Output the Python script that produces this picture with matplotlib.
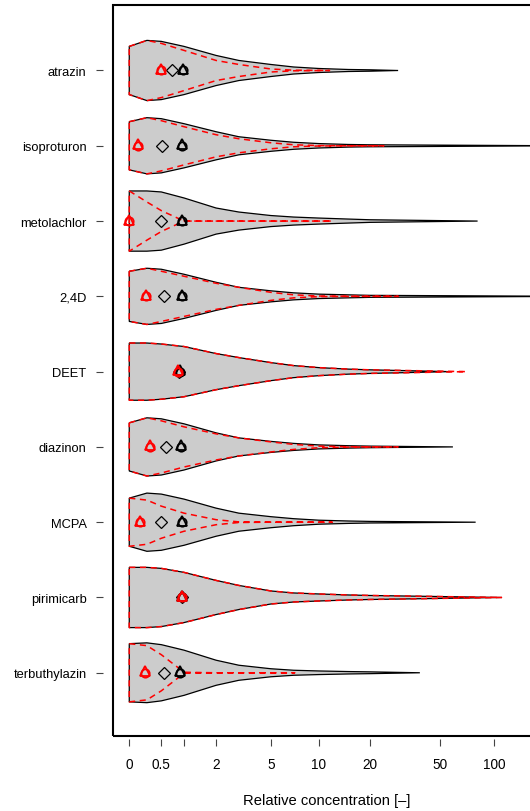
import numpy as np
import matplotlib
matplotlib.use('Agg')
import matplotlib.pyplot as plt
from matplotlib.patches import Rectangle

plt.rcParams['font.family'] = ['Liberation Sans', 'DejaVu Sans']

# compounds, top to bottom
compounds = ['atrazin', 'isoproturon', 'metolachlor', '2,4D', 'DEET',
             'diazinon', 'MCPA', 'pirimicarb', 'terbuthylazin']

grid = [0, 0.25, 0.5, 1, 2, 3, 5, 7, 10, 15, 20]

# observed density (grey violins), half-widths on grid
gray_width = [
    [24, 30, 29, 24, 15, 10, 6, 3.5, 2, 1, 0.7],
    [24, 28, 27, 22, 14, 9, 5.5, 3.5, 2.2, 1.3, 1.0],
    [30, 30, 29, 23, 13, 9, 5.5, 4, 3, 2, 1.3],
    [25, 28, 27, 22, 14, 9, 5.5, 3.5, 2.2, 1.5, 1.0],
    [28.5, 28.5, 27.5, 25, 18, 14, 9, 6, 4, 2.5, 1.8],
    [24, 29, 28, 23, 14, 9, 5.5, 3.5, 2, 1.2, 0.8],
    [24, 29, 28, 23, 14, 9, 5.5, 3.5, 2, 1.2, 0.8],
    [30, 30, 29, 25, 17, 12, 6.5, 4.5, 3.5, 2.5, 2],
    [29, 29.8, 28, 22.5, 12.5, 7.5, 4, 2.5, 1.8, 1.2, 0.9],
]
gray_end = [29, 250, 81, 300, 57, 59, 79, 110, 38.5]

# model density (red dashed violins), half-widths on grid
red_width = [
    [24, 30, 27, 20, 10, 6, 1.5, 0.3, 0.1, 0, 0],
    [24, 28, 25, 19, 11, 7, 3, 1, 0.2, 0, 0],
    [30, 19, 10.4, 0, 0, 0, 0, 0, 0, 0, 0],
    [25, 28, 25, 20, 13, 9, 4, 1.5, 0.3, 0.1, 0],
    [28.5, 28.5, 27.5, 25, 18, 14, 9, 6, 4, 2.5, 1.8],
    [24, 29, 26, 20, 13, 9, 5, 2.5, 0.8, 0.2, 0.05],
    [24, 22, 16, 9, 2.5, 0.3, 0, 0, 0, 0, 0],
    [30, 30, 29, 25, 17, 12, 6.5, 4.5, 3.5, 2.5, 2],
    [29, 27, 18, 0.5, 0, 0, 0, 0, 0, 0, 0],
]
red_end = [11.6, 24, 12, 29, 70, 29, 12, 110, 7.1]

# summary markers
red_mark = [0.49, 0.12, 0.0, 0.24, 0.86, 0.30, 0.14, 0.95, 0.22]
diamond_mark = [0.72, 0.52, 0.49, 0.55, 0.88, 0.59, 0.49, 0.95, 0.56]
black_mark = [0.97, 0.955, 0.95, 0.95, 0.90, 0.93, 0.95, 0.95, 0.90]

xticks = [0, 0.5, 1, 2, 5, 10, 20, 50, 100]
xticklabels = ['0', '0.5', '', '2', '5', '10', '20', '50', '100']


def fwd(x):
    return np.log10(np.asarray(x, dtype=float) + 1)


def inv(y):
    return 10 ** np.asarray(y, dtype=float) - 1


def outline(center, widths, end, wex):
    xs = [g for g in grid if g < end] + [end]
    hw = [w * wex for g, w in zip(grid, widths) if g < end] + [0]
    up = [center + h for h in hw]
    lo = [center - h for h in hw]
    x = xs + xs[::-1] + [xs[0]]
    y = up + lo[::-1] + [up[0]]
    return x, y


fig = plt.figure(figsize=(5.3, 8.12), dpi=100)
ax = fig.add_axes([113 / 530, 1 - 737 / 812, (540 - 113) / 530, 731 / 812])
ax.set_xscale('function', functions=(fwd, inv))
ax.set_xlim(-0.186, 179.6)
ax.set_ylim(0.16, 9.87)

wex = 1 / 75.0
n = len(compounds)
for i, name in enumerate(compounds):
    yc = n - i
    gx, gy = outline(yc, gray_width[i], gray_end[i], wex)
    ax.fill(gx, gy, facecolor='#cccccc', edgecolor='black', lw=0.9, zorder=2)
    rx, ry = outline(yc, red_width[i], red_end[i], wex)
    ax.plot(rx, ry, color='red', lw=1.1, dashes=(4, 3), zorder=3)

    ax.plot(diamond_mark[i], yc, marker='D', ms=6.5, mfc='none', mec='black',
            mew=0.9, zorder=4)
    for pos, col in [(black_mark[i], 'black'), (red_mark[i], 'red')]:
        ax.plot(pos, yc, marker='o', ms=6, mfc='none', mec=col, mew=1.3, zorder=5)
        ax.plot(pos, yc + 0.02, marker='^', ms=7.5, mfc='none', mec=col, mew=1.3, zorder=5)

for s in ax.spines.values():
    s.set_color('none')
ax.spines['left'].set_position(('outward', 7))
ax.spines['bottom'].set_position(('outward', 2.2))
ax.add_patch(Rectangle((0, 0), 1, 1, transform=ax.transAxes, fill=False,
                       lw=1.5, edgecolor='black', clip_on=False, zorder=10))

ax.set_yticks(range(n, 0, -1))
ax.set_yticklabels(compounds)
ax.set_xticks(xticks)
ax.set_xticklabels(xticklabels)
ax.minorticks_off()
ax.tick_params(axis='both', length=5, width=0.8, color='#444444',
               labelcolor='black')
ax.tick_params(axis='y', pad=7, labelsize=9.3)
ax.tick_params(axis='x', pad=8, labelsize=9.8)
ax.set_xlabel('Relative concentration [\u2013]', fontsize=10.6, labelpad=15.5)

fig.savefig('out.png', dpi=100)
